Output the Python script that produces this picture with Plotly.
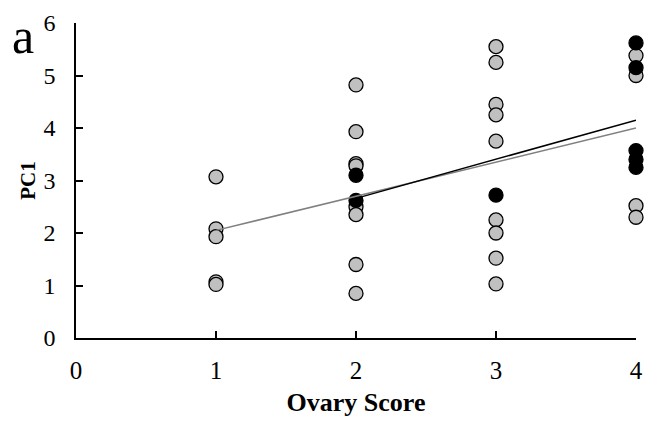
import plotly.graph_objects as go

# Gray (open) group
gray_x = [1, 1, 1, 1, 1,
          2, 2, 2, 2, 2, 2, 2, 2,
          3, 3, 3, 3, 3, 3, 3, 3, 3,
          4, 4, 4, 4]
gray_y = [3.07, 2.08, 1.93, 1.07, 1.02,
          4.82, 3.93, 3.32, 3.28, 2.50, 2.35, 1.40, 0.85,
          5.55, 5.25, 4.45, 4.25, 3.75, 2.25, 2.00, 1.52, 1.03,
          5.38, 5.00, 2.52, 2.30]

# Black (filled) group
black_x = [2, 2, 3, 4, 4, 4, 4, 4]
black_y = [3.10, 2.62, 2.72, 5.62, 5.15, 3.57, 3.40, 3.25]

# Trend lines (end values)
trend_gray_x = [1, 4]
trend_gray_y = [2.05, 4.00]
trend_black_x = [2, 4]
trend_black_y = [2.66, 4.15]

x_ticks = [0, 1, 2, 3, 4]
y_ticks = [0, 1, 2, 3, 4, 5, 6]

serif = "Liberation Serif, Times New Roman, serif"

fig = go.Figure()
fig.add_trace(go.Scatter(x=gray_x, y=gray_y, mode="markers", cliponaxis=False,
                         marker=dict(size=14, color="#c0c0c0",
                                     line=dict(color="black", width=1.3)),
                         showlegend=False))
fig.add_trace(go.Scatter(x=black_x, y=black_y, mode="markers", cliponaxis=False,
                         marker=dict(size=14, color="black",
                                     line=dict(color="black", width=1.3)),
                         showlegend=False))
fig.add_trace(go.Scatter(x=trend_gray_x, y=trend_gray_y, mode="lines",
                         line=dict(color="#808080", width=1.5), showlegend=False))
fig.add_trace(go.Scatter(x=trend_black_x, y=trend_black_y, mode="lines",
                         line=dict(color="black", width=1.5), showlegend=False))

fig.update_layout(
    width=653, height=422,
    margin=dict(l=76, r=10, t=14, b=80),
    paper_bgcolor="white", plot_bgcolor="white",
    font=dict(family=serif, size=24, color="black"),
    xaxis=dict(range=[0, 4], tickvals=x_ticks, showgrid=False, zeroline=False,
               showline=True, linecolor="black", linewidth=1.5,
               ticks="inside", ticklen=7, tickcolor="black", tickwidth=1.5,
               ticklabelstandoff=9,
               tickfont=dict(family=serif, size=25),
               title=dict(text="<b>Ovary Score</b>", font=dict(family=serif, size=26),
                          standoff=10)),
    yaxis=dict(range=[0, 6], tickvals=y_ticks, showgrid=False, zeroline=False,
               showline=True, linecolor="black", linewidth=1.5,
               ticks="inside", ticklen=7, tickcolor="black", tickwidth=1.5,
               ticklabelstandoff=14,
               tickfont=dict(family=serif, size=24),
               title=dict(text="<b>PC1</b>", font=dict(family=serif, size=21),
                          standoff=2)),
    annotations=[dict(text="a", xref="paper", yref="paper", x=-0.118, y=1.055,
                      xanchor="left", yanchor="top", showarrow=False,
                      font=dict(family=serif, size=50, color="black"))],
)

fig.write_html("out.html")
